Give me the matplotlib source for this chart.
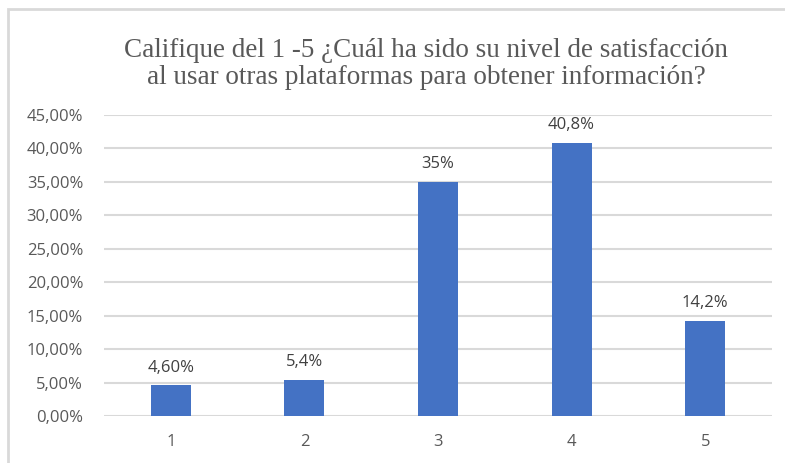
import matplotlib.pyplot as plt
from matplotlib.patches import Rectangle

categorias = ["1", "2", "3", "4", "5"]
valores = [4.6, 5.4, 35.0, 40.8, 14.2]
etiquetas = ["4,60%", "5,4%", "35%", "40,8%", "14,2%"]
yticks = [0, 5, 10, 15, 20, 25, 30, 35, 40, 45]
titulo = ("Califique del 1 -5 ¿Cuál ha sido su nivel de satisfacción\n"
          "al usar otras plataformas para obtener información?")

W, H = 785, 463
fig = plt.figure(figsize=(W / 100, H / 100), dpi=100)

# chart border (cropped at right and bottom in the original)
fig.patches.append(Rectangle((8 / W, -0.1), 1.2, (H - 9) / H + 0.1,
                             transform=fig.transFigure, fill=False,
                             edgecolor="#D9D9D9", linewidth=2))

ax = fig.add_axes([104 / W, 1 - 416 / H, (772 - 104) / W, (416 - 115) / H])
x = range(1, len(categorias) + 1)
ax.bar(x, valores, width=0.3, color="#4472C4", zorder=3)
for xi, v, t in zip(x, valores, etiquetas):
    ax.annotate(t, (xi, v), xytext=(0, 7), textcoords="offset points",
                ha="center", va="bottom", fontsize=12, color="#404040",
                family="Open Sans")

ax.set_xlim(0.5, 5.5)
ax.set_ylim(0, 45)
ax.set_yticks(yticks)
ax.set_yticklabels([f"{t},00%" for t in yticks], family="Open Sans",
                   fontsize=12, color="#595959")
ax.set_xticks(list(x))
ax.set_xticklabels(categorias, family="Open Sans", fontsize=12, color="#595959")
ax.tick_params(length=0, axis="y", pad=15)
ax.tick_params(length=0, axis="x", pad=13)
ax.yaxis.grid(True, color="#D9D9D9", linewidth=1.5, zorder=0)
for s in ax.spines.values():
    s.set_visible(False)

fig.text(426 / W, 1 - 64 / H, titulo, ha="center", va="center",
         family="Liberation Serif", fontsize=19.5, color="#595959",
         linespacing=1.15)

fig.savefig("out.png", dpi=100)
